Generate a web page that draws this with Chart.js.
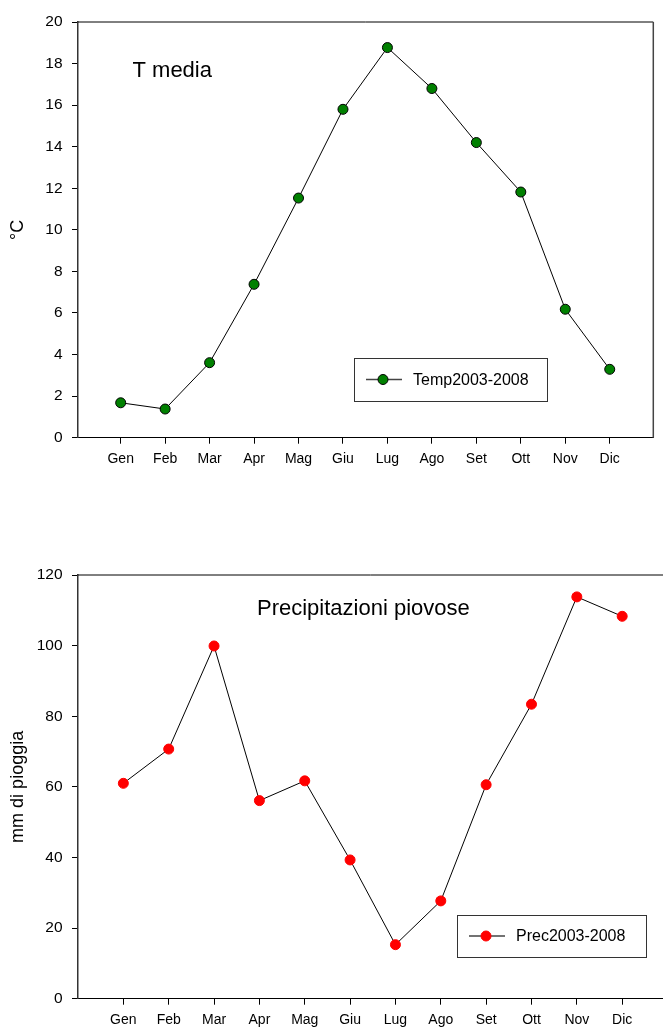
<!DOCTYPE html>
<html>
<head>
<meta charset="utf-8">
<script src="https://cdn.jsdelivr.net/npm/chart.js@4.4.1/dist/chart.umd.min.js"></script>
<style>
  html, body { margin: 0; padding: 0; background: #fff; }
  body { width: 663px; height: 1028px; position: relative; overflow: hidden; }
  canvas { position: absolute; left: 0; }
</style>
</head>
<body>
<canvas id="temp-chart" width="663" height="480" style="top:0"></canvas>
<canvas id="prec-chart" width="663" height="488" style="top:540px"></canvas>
<script>
const months = ["Gen", "Feb", "Mar", "Apr", "Mag", "Giu", "Lug", "Ago", "Set", "Ott", "Nov", "Dic"];
const tempValues = [1.68, 1.38, 3.61, 7.38, 11.53, 15.80, 18.77, 16.80, 14.20, 11.82, 6.18, 3.29];
const precValues = [61.0, 70.7, 99.9, 56.1, 61.7, 39.3, 15.3, 27.7, 60.6, 83.4, 113.8, 108.3];
const tempTicks = [0, 2, 4, 6, 8, 10, 12, 14, 16, 18, 20];
const precTicks = [0, 20, 40, 60, 80, 100, 120];

const FONT = "Arial, 'Liberation Sans', sans-serif";

// caption inside the plot, framed legend and the top/right border lines
const panelPlugin = {
  id: "panel",
  afterDraw(chart, args, opts) {
    const ctx = chart.ctx;
    const a = chart.chartArea;
    ctx.save();

    ctx.strokeStyle = "#000";
    ctx.lineWidth = 1;
    ctx.beginPath();
    ctx.moveTo(a.left, a.top);
    ctx.lineTo(a.right, a.top);
    ctx.stroke();
    if (opts.rightBorder) {
      ctx.strokeStyle = "#444";
      ctx.lineWidth = 1.5;
      ctx.beginPath();
      ctx.moveTo(a.right, a.top);
      ctx.lineTo(a.right, a.bottom);
      ctx.stroke();
    }

    ctx.fillStyle = "#000";
    ctx.font = "22px " + FONT;
    ctx.textAlign = "left";
    ctx.textBaseline = "alphabetic";
    ctx.fillText(opts.caption.text, opts.caption.x, opts.caption.y);

    const lg = opts.legend;
    const ds = chart.data.datasets[0];
    ctx.strokeStyle = "#333";
    ctx.lineWidth = 1;
    ctx.strokeRect(lg.x + 0.5, lg.y + 0.5, lg.w, lg.h);
    const cy = lg.y + lg.h / 2;
    ctx.strokeStyle = "#444";
    ctx.lineWidth = 1.5;
    ctx.beginPath();
    ctx.moveTo(lg.x + 12, cy);
    ctx.lineTo(lg.x + 48, cy);
    ctx.stroke();
    ctx.beginPath();
    ctx.arc(lg.x + 29, cy, 5, 0, Math.PI * 2);
    ctx.fillStyle = ds.pointBackgroundColor;
    ctx.fill();
    ctx.lineWidth = 1;
    ctx.strokeStyle = ds.pointBorderColor;
    ctx.stroke();
    ctx.fillStyle = "#000";
    ctx.font = "16px " + FONT;
    ctx.textBaseline = "middle";
    ctx.fillText(ds.label, lg.x + 59, cy + 1);

    ctx.restore();
  }
};

function monthAxis(min, max, height) {
  return {
    type: "linear",
    min: min,
    max: max,
    afterBuildTicks: s => { s.ticks = months.map((m, i) => ({ value: i })); },
    afterFit: s => {
      s.height = height;
      s.paddingLeft = 0;
      s.paddingRight = 0;
    },
    ticks: {
      callback: v => months[v],
      font: { family: FONT, size: 14 },
      color: "#000",
      padding: 7,
      maxRotation: 0,
      autoSkip: false
    },
    grid: { drawOnChartArea: false, tickLength: 6, color: "#000" },
    border: { color: "#000", width: 1 }
  };
}

function valueAxis(ticks, title) {
  return {
    min: ticks[0],
    max: ticks[ticks.length - 1],
    afterBuildTicks: s => { s.ticks = ticks.map(v => ({ value: v })); },
    afterFit: s => {
      s.width = 78;
      s.paddingTop = 0;
      s.paddingBottom = 0;
    },
    ticks: {
      font: { family: FONT, size: 15.5 },
      color: "#000",
      padding: 9.5
    },
    grid: { drawOnChartArea: false, tickLength: 6, color: "#000" },
    border: { color: "#333", width: 1.5 },
    title: {
      display: true,
      text: title,
      font: { family: FONT, size: 18 },
      color: "#000",
      padding: { top: 7, bottom: 0 }
    }
  };
}

new Chart(document.getElementById("temp-chart").getContext("2d"), {
  type: "line",
  data: {
    datasets: [{
      label: "Temp2003-2008",
      data: tempValues.map((v, i) => ({ x: i, y: v })),
      borderColor: "#000",
      borderWidth: 1,
      pointBackgroundColor: "#008000",
      pointBorderColor: "#000",
      pointBorderWidth: 1,
      pointRadius: 5,
      tension: 0
    }]
  },
  options: {
    responsive: false,
    animation: false,
    devicePixelRatio: 1,
    layout: { autoPadding: false, padding: { top: 22, right: 9.7, bottom: 0, left: 0 } },
    scales: {
      x: monthAxis(-0.96, 11.98, 42.3),
      y: valueAxis(tempTicks, "°C")
    },
    plugins: {
      legend: { display: false },
      tooltip: { enabled: false },
      panel: {
        rightBorder: true,
        caption: { text: "T media", x: 132.5, y: 77 },
        legend: { x: 354, y: 358, w: 193, h: 43 }
      }
    }
  },
  plugins: [panelPlugin]
});

new Chart(document.getElementById("prec-chart").getContext("2d"), {
  type: "line",
  data: {
    datasets: [{
      label: "Prec2003-2008",
      data: precValues.map((v, i) => ({ x: i, y: v })),
      borderColor: "#000",
      borderWidth: 1,
      pointBackgroundColor: "#ff0000",
      pointBorderColor: "#ff0000",
      pointBorderWidth: 1,
      pointRadius: 5,
      tension: 0
    }]
  },
  options: {
    responsive: false,
    animation: false,
    devicePixelRatio: 1,
    layout: { autoPadding: false, padding: { top: 35, right: 0, bottom: 0, left: 0 } },
    scales: {
      x: monthAxis(-1, 11.9, 29.3),
      y: valueAxis(precTicks, "mm di pioggia")
    },
    plugins: {
      legend: { display: false },
      tooltip: { enabled: false },
      panel: {
        rightBorder: false,
        caption: { text: "Precipitazioni piovose", x: 257, y: 615 - 540 },
        legend: { x: 457, y: 915 - 540, w: 189, h: 42 }
      }
    }
  },
  plugins: [panelPlugin]
});
</script>
</body>
</html>
